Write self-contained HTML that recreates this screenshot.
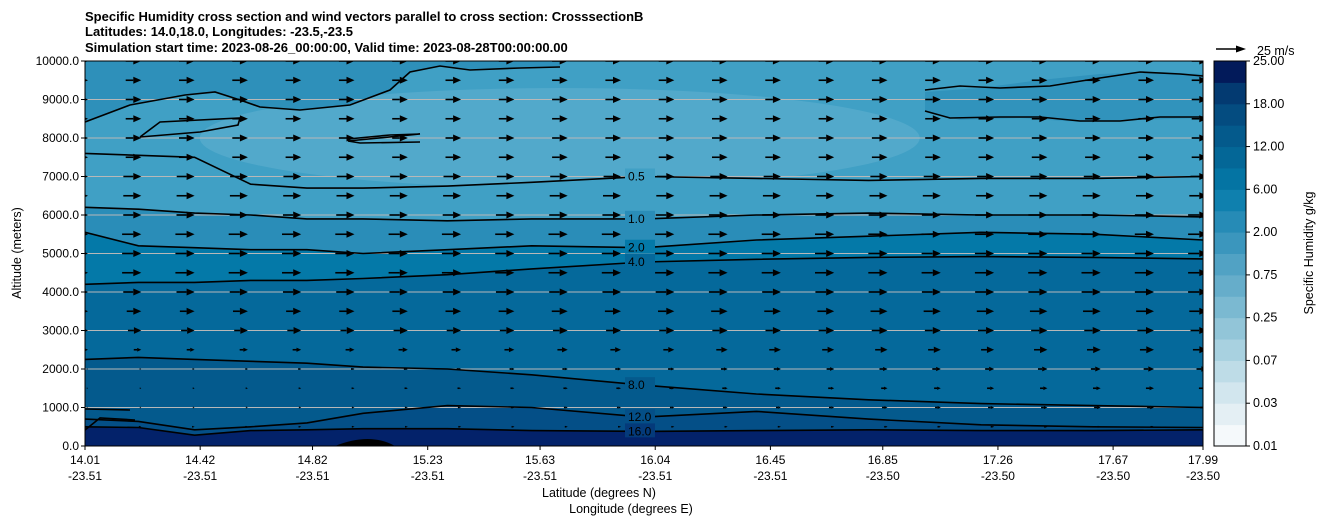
<!DOCTYPE html>
<html><head><meta charset="utf-8"><style>
body{margin:0;background:#fff;font-family:"Liberation Sans","DejaVu Sans",sans-serif}
text{font-family:"Liberation Sans","DejaVu Sans",sans-serif}
</style></head><body>
<svg id="c" width="1326" height="526" xmlns="http://www.w3.org/2000/svg">
<g font-size="13" font-weight="bold">
<text x="85" y="21">Specific Humidity cross section and wind vectors parallel to cross section: CrosssectionB</text>
<text x="85" y="36">Latitudes: 14.0,18.0, Longitudes: -23.5,-23.5</text>
<text x="85" y="52">Simulation start time: 2023-08-26_00:00:00, Valid time: 2023-08-28T00:00:00.00</text>
</g>
<defs><clipPath id="pc"><rect x="85" y="61" width="1118" height="385"/></clipPath></defs>
<g id="plot" clip-path="url(#pc)"></g>
<g id="axes"></g>
<g id="cbar"></g>
</svg>
<script>
const sampleLats=[14.01,14.2,14.4,14.6,14.8,15.0,15.3,15.6,16.0,16.4,16.8,17.2,17.6,17.99];
const c16=[500,480,280,400,420,450,450,400,380,400,420,400,400,420];
const c12=[700,640,420,500,600,850,1050,1000,750,900,700,550,500,480];
const c8=[2250,2300,2250,2200,2150,2050,2000,1850,1580,1350,1200,1100,1050,1000];
const c4=[4200,4250,4250,4300,4300,4350,4450,4600,4780,4850,4900,4920,4900,4860];
const c2=[5550,5200,5150,5100,5100,5000,5100,5200,5150,5350,5450,5550,5500,5350];
const c1=[6200,6150,6050,6000,5900,5900,5850,5900,5900,6000,6050,6000,6000,5950];
const c05=[7600,7550,7500,6800,6700,6700,6750,6850,7000,6950,6900,6950,6950,7000];
const contourLabels=["16.0","12.0","8.0","4.0","2.0","1.0","0.5"];
const xTickLats=["14.01","14.42","14.82","15.23","15.63","16.04","16.45","16.85","17.26","17.67","17.99"];
const xTickLons=["-23.51","-23.51","-23.51","-23.51","-23.51","-23.51","-23.51","-23.50","-23.50","-23.50","-23.50"];
const yTicks=[0,1000,2000,3000,4000,5000,6000,7000,8000,9000,10000];
const windRows=[500,1000,1500,2000,2500,3000,3500,4000,4500,5000,5500,6000,6500,7000,7500,8000,8500,9000,9500,10000];
const windLeft=[2,1,1,1,6,11,12,15,16,16,16,15,15,15,13,13,13,13,13,13];
const windRight=[3,6,7,9,12,14,15,16,16,16,16,16,15,14,13,13,13,13,13,13];
const cbLabels=["0.01","0.03","0.07","0.25","0.75","2.00","6.00","12.00","18.00","25.00"];
const cbColors=["#f5f9fb","#e4eff4","#d2e6ee","#bedce7","#a8d1e0","#92c5d8","#7bb9d1","#66adca","#51a2c4","#3b96bd","#268bb6","#0f80ae","#0474a3","#046797","#045a8c","#044c80","#033a71","#021a5a"];
const bandFills=["#03226a","#043a7a","#044f87","#045a8d","#05699b","#0479a8","#2a8db8","#40a0c5"];

const S="http://www.w3.org/2000/svg";
function mk(t,a,p){const e=document.createElementNS(S,t);for(const k in a)e.setAttribute(k,a[k]);p.appendChild(e);return e;}
const X0=85,X1=1203,Y0=446,Y1=61;
const xs=l=>X0+(l-14.01)/(17.99-14.01)*(X1-X0);
const ys=h=>Y0-h/10000*(Y0-Y1);
const plotG=document.getElementById('plot'),axesG=document.getElementById('axes'),cbG=document.getElementById('cbar');
const lines=[c16,c12,c8,c4,c2,c1,c05];
function pts(arr){return sampleLats.map((l,i)=>xs(l).toFixed(1)+','+ys(arr[i]).toFixed(1));}
let bg=mk('rect',{x:X0,y:Y1,width:X1-X0,height:Y0-Y1,fill:bandFills[7]},plotG);


const inner=mk('ellipse',{cx:xs(15.7),cy:ys(8000),rx:360,ry:50,fill:"#52a9cb"},plotG);


const upperFill=mk('polygon',{points:"85,61 85,122 130,105 185,95 215,92 240,100 260,107 300,110 350,105 390,90 410,72 440,66 470,70 520,68 560,67 560,61",fill:"#2e90ba"},plotG);


const upperFill2=mk('polygon',{points:"925,92 980,88 1040,80 1100,74 1160,72 1203,74 1203,118 1140,120 1080,122 1020,118 960,120 925,112",fill:"#3193bc"},plotG);


for(let i=lines.length-1;i>=0;i--){
  const p=pts(lines[i]).join(' ')+` ${X1},${Y0} ${X0},${Y0}`;
  const e=mk('polygon',{points:p,fill:bandFills[i+1]},plotG);
  
  
}
const bot=mk('polygon',{points:pts(c16).join(' ')+` ${X1},${Y0} ${X0},${Y0}`,fill:bandFills[0]},plotG);


const terrain=mk('path',{d:"M335,446 Q370,432 395,446 Z",fill:"#000"},plotG);


yTicks.forEach(h=>{const g=mk('line',{x1:X0,x2:X1,y1:ys(h),y2:ys(h),stroke:"#b8b8b8","stroke-width":1},plotG);

});
// wind arrows
const nCols=22;
windRows.forEach((h,r)=>{for(let c=0;c<nCols;c++){
  const f=c/(nCols-1);
  const spd=windLeft[r]*(1-f)+windRight[r]*f;
  const tip=88+c*53.3,y=ys(h),L=spd*1.2;
  const hl=Math.min(8,L*0.55),hw=Math.min(3.5,L*0.25);
  const g=mk('g',{},plotG);
  
  
  if(L-hl>0.5) mk('line',{x1:tip-L,y1:y,x2:tip-hl,y2:y,stroke:"#000","stroke-width":1.6},g);
  mk('polygon',{points:`${tip},${y} ${tip-hl},${y-hw} ${tip-hl},${y+hw}`,fill:"#000"},g);
}});
// contours
lines.forEach((arr,i)=>{const e=mk('polyline',{points:pts(arr).join(' '),fill:"none",stroke:"#000","stroke-width":1.6},plotG);


const lx=xs(16.0)-16,ly=ys(arr[8]);
mk('rect',{x:lx-3,y:ly-8,width:30,height:14,fill:bandFills[i+1]},plotG);
const tx=mk('text',{x:lx,y:ly+4,"font-size":12},plotG);tx.textContent=contourLabels[i];

});
const extra=[
 ["contour-0.5-upper","85,122 130,105 185,95 215,92 240,100 260,107 300,110 350,105 390,90 410,72 440,66 470,70 520,68 560,67"],
 ["contour-0.5-upper-right","925,90 960,86 1000,88 1050,86 1100,78 1140,72 1180,74 1203,76"],
 ["contour-0.5-upper-right-lower","925,111 950,118 1000,117 1040,117 1080,121 1120,121 1160,117 1203,117"],
 ["contour-0.2-loop","140,137 160,122 240,118 238,125 200,132 140,137"],
 ["contour-0.2-loop2","348,139 390,135 420,134 348,141 360,143 420,142"],
 ["contour-12-left","85,430 100,418 135,420"],
 ["contour-12-left2","85,409 130,410"]];
extra.forEach(([nm,p])=>{const e=mk('polyline',{points:p,fill:"none",stroke:"#000","stroke-width":1.6},plotG);

});
mk('rect',{x:X0,y:Y1,width:X1-X0,height:Y0-Y1,fill:"none",stroke:"#000","stroke-width":1},axesG);
yTicks.forEach(h=>{mk('line',{x1:X0-4,x2:X0,y1:ys(h),y2:ys(h),stroke:"#000"},axesG);
const tx=mk('text',{x:X0-6,y:ys(h)+4,"font-size":12,"text-anchor":"end"},axesG);tx.textContent=h.toFixed(1);

});
xTickLats.forEach((l,i)=>{const x=xs(+l);mk('line',{x1:x,x2:x,y1:Y0,y2:Y0+4,stroke:"#000"},axesG);
const tx=mk('text',{x:x,y:Y0+18,"font-size":12,"text-anchor":"middle"},axesG);tx.textContent=l;


const t2=mk('text',{x:x,y:Y0+34,"font-size":12,"text-anchor":"middle"},axesG);t2.textContent=xTickLons[i];

});
let lab=mk('text',{x:599,y:497,"font-size":12.5,"text-anchor":"middle"},axesG);lab.textContent="Latitude (degrees N)";

lab=mk('text',{x:631,y:513,"font-size":12.5,"text-anchor":"middle"},axesG);lab.textContent="Longitude (degrees E)";

lab=mk('text',{x:21,y:253,"font-size":12.5,"text-anchor":"middle",transform:"rotate(-90 21 253)"},axesG);lab.textContent="Altitude (meters)";

mk('line',{x1:1216,x2:1238,y1:49,y2:49,stroke:"#000","stroke-width":1.6},axesG);
mk('polygon',{points:"1246,49 1236,45.5 1236,52.5",fill:"#000"},axesG);
lab=mk('text',{x:1257,y:55,"font-size":12.5},axesG);lab.textContent="25 m/s";

const CX=1214,CW=32,n=cbColors.length,bh=(Y0-Y1)/n;
cbColors.forEach((col,i)=>{const r=mk('rect',{x:CX,y:Y0-(i+1)*bh,width:CW,height:bh+0.5,fill:col},cbG);
});
mk('rect',{x:CX,y:Y1,width:CW,height:Y0-Y1,fill:"none",stroke:"#000"},cbG);
cbLabels.forEach((l,i)=>{const y=Y0-i*2*bh;mk('line',{x1:CX+CW,x2:CX+CW+4,y1:y,y2:y,stroke:"#000"},cbG);
const tt=mk('text',{x:CX+CW+7,y:y+4,"font-size":12.5},cbG);tt.textContent=l;
});
lab=mk('text',{x:1313,y:253,"font-size":12.5,"text-anchor":"middle",transform:"rotate(-90 1313 253)"},cbG);lab.textContent="Specific Humidity g/kg";

</script>
</body></html>
